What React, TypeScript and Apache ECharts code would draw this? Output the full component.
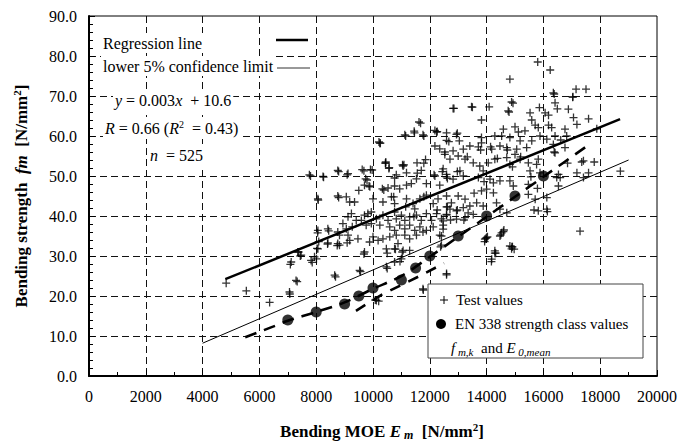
import React, { useEffect, useRef } from "react";
import * as echarts from "echarts";

// Test values: [bending MOE E_m (N/mm²), bending strength f_m (N/mm²)]
const testValues: [number, number][] = [
  [4830, 23.2], [5540, 21.3], [6360, 18.4], [7070, 20.5], [7060, 21.0], [7290, 23.9], [7330, 23.6], [7090, 27.9],
  [7120, 28.5], [7440, 30.0], [7380, 31.0], [7350, 31.0], [7470, 30.2], [7820, 28.9], [7860, 28.4], [7940, 29.8],
  [8010, 29.3], [8030, 31.9], [8060, 31.8], [8090, 33.6], [8050, 35.8], [8440, 36.3], [8400, 33.0], [8740, 32.6],
  [8680, 24.8], [8650, 25.2], [8410, 33.3], [8760, 33.1], [8820, 32.7], [8060, 36.4], [8410, 36.8], [8760, 36.0],
  [8820, 35.2], [8940, 38.1], [8060, 44.3], [8070, 44.0], [8760, 45.0], [8790, 44.6], [7800, 50.0], [7760, 50.3],
  [8240, 49.9], [8260, 49.7], [8790, 51.1], [8760, 51.4],
  [9060, 44.8], [9180, 43.5], [9350, 43.5], [9120, 50.6], [9090, 50.3], [9620, 51.6], [9680, 51.3], [9910, 51.6],
  [9970, 51.5], [9740, 49.3], [9790, 49.0], [9700, 47.7], [9860, 47.5], [9890, 47.3], [9500, 46.4], [10000, 44.3],
  [9240, 40.6], [9120, 39.8], [9410, 38.9], [9590, 38.9], [9700, 40.2], [9820, 40.6], [9940, 41.0], [9060, 36.8],
  [9270, 37.3], [9760, 37.7], [9940, 38.1], [9120, 35.2], [9180, 33.9], [9470, 34.3], [9880, 33.5], [10000, 34.8],
  [9700, 31.0], [9530, 26.4], [9560, 26.1], [9680, 30.5], [9090, 33.3], [10240, 58.2],
  [10210, 58.5], [10450, 53.5], [10440, 53.2], [10570, 52.1], [10560, 51.9], [11040, 52.8], [11060, 52.5], [11550, 53.3],
  [11850, 54.1], [11700, 51.4], [11180, 50.8], [10820, 50.3], [10760, 49.5], [10330, 46.8], [10530, 47.0], [10760, 47.5],
  [10940, 46.8], [11180, 47.7], [11350, 48.1], [11530, 49.3], [11880, 48.1], [12180, 50.0], [12350, 47.7], [12470, 51.8],
  [12590, 49.8], [10350, 43.5], [10650, 44.8], [10760, 43.1], [11180, 44.3], [11410, 43.1], [11470, 41.8], [11650, 44.3],
  [11880, 45.2], [12120, 43.1], [12290, 44.3], [12590, 42.3], [10120, 39.3], [10350, 40.2], [10530, 38.9], [10760, 41.0],
  [10820, 39.3], [11000, 40.2], [11120, 38.9], [11290, 39.8], [11530, 40.2], [11700, 38.9], [11880, 40.6], [12060, 38.9],
  [12240, 40.6], [12410, 39.3], [12590, 40.2], [10240, 37.7], [10590, 37.3], [10760, 36.4], [10940, 37.7], [11120, 36.8],
  [11290, 37.7], [11470, 36.4], [11650, 37.3], [11880, 36.4], [12120, 37.3], [12470, 37.7], [10180, 33.9], [10350, 34.3],
  [10590, 34.8], [10820, 35.2], [10880, 33.1], [11120, 35.2], [11290, 34.3], [11530, 35.2], [11760, 36.0], [12350, 35.2],
  [10470, 31.8], [10760, 31.8], [11060, 31.4], [11290, 31.4], [12410, 32.7], [10470, 27.3], [10760, 28.5], [11000, 29.3],
  [10500, 30.7], [10790, 31.7], [11030, 31.0], [10950, 28.6], [10500, 26.9], [11760, 21.8], [11770, 21.5], [10120, 18.9],
  [10200, 18.7], [10080, 19.0], [12590, 25.6], [12590, 25.3], [12380, 32.3],
  [11620, 63.5], [11675, 63.2], [11450, 61.2], [11460, 60.8], [11120, 60.3], [11150, 60.0], [11760, 60.3], [11790, 60.0],
  [12180, 61.4], [12240, 61.0], [12590, 58.9], [12670, 58.6], [12180, 57.5], [12350, 56.8], [12530, 56.0], [10260, 58.2],
  [15800, 78.5], [16240, 76.5], [14820, 74.2], [16350, 70.8], [17150, 71.7], [17500, 71.7], [17040, 69.8], [14880, 68.5],
  [16410, 68.3], [16490, 66.8], [12820, 66.9], [13470, 67.3], [14090, 67.3], [14760, 66.3], [13820, 64.0], [15530, 65.8],
  [15860, 67.1], [16060, 65.8], [16180, 65.2], [16880, 66.7], [17060, 64.6], [17180, 62.9], [17590, 64.3], [15590, 64.0],
  [15710, 62.7], [15820, 62.1], [16180, 62.7], [16290, 62.1], [16760, 61.7], [16820, 60.0], [17880, 61.8], [14590, 61.7],
  [15000, 62.3], [15120, 61.0], [15350, 61.3], [12590, 60.8], [12940, 60.4], [13040, 58.8], [13820, 59.6], [14290, 60.0],
  [14530, 60.0], [14820, 59.6], [15180, 58.8], [15590, 58.8], [15880, 60.0], [16120, 59.2], [16410, 60.0], [16350, 57.9],
  [16760, 57.1], [16410, 55.8], [15410, 57.1], [15060, 56.7], [15000, 55.4], [14710, 57.1], [14470, 57.5], [14180, 56.7],
  [13820, 58.3], [13710, 57.3], [13410, 57.5], [13180, 56.7], [12820, 56.3], [12530, 55.4], [12710, 54.2], [13000, 55.0],
  [13240, 54.2], [13530, 53.3], [13760, 52.5], [13880, 51.3], [14060, 53.3], [14290, 54.2], [14710, 54.6], [14820, 52.9],
  [15180, 54.2], [15470, 53.3], [15760, 52.9], [15820, 54.2], [15530, 51.3], [15880, 50.8], [16530, 50.4], [16590, 49.6],
  [17180, 50.8], [17410, 53.8], [17350, 53.5], [17790, 53.5], [17410, 49.6], [17590, 50.8], [18710, 51.2], [13060, 51.3],
  [13180, 50.0], [12590, 50.4], [12820, 49.2], [13710, 49.6], [14120, 49.2], [14240, 48.3], [14470, 48.8], [14820, 48.8],
  [14940, 47.5], [15470, 47.9], [15470, 45.4], [15710, 44.2], [16120, 44.6], [16530, 47.5], [16470, 49.6], [13820, 46.3],
  [14000, 46.7], [14240, 45.8], [12590, 45.0], [12760, 43.3], [13000, 45.0], [13240, 44.2], [13410, 42.5], [13650, 43.3],
  [12710, 41.7], [12940, 41.3], [13180, 42.1], [13350, 40.8], [13530, 40.4], [13240, 39.6], [12590, 40.4], [12940, 39.2],
  [13880, 42.5], [14470, 41.7], [14710, 40.8], [14350, 43.3], [15820, 41.3], [16120, 41.7], [12470, 38.8], [12470, 36.7],
  [12410, 35.0], [14530, 35.8], [14470, 35.0], [13940, 34.2], [14000, 34.6], [14290, 31.3], [14180, 29.2], [14820, 32.5],
  [14880, 31.8], [17290, 36.2], [13970, 34.4], [13930, 33.6], [14590, 36.1], [14500, 35.3], [14290, 30.7], [14170, 28.6],
  [14890, 32.3], [14970, 31.7],
  [14930, 68.2], [14790, 66.0], [12850, 66.9], [13500, 67.2], [12260, 61.1], [12970, 60.7], [16380, 70.5], [17030, 69.7],
  [10440, 53.2], [11090, 52.8], [11560, 50.7], [11790, 53.2], [12150, 50.3], [12440, 51.1], [12620, 49.4], [12970, 51.1],
  [13320, 54.8], [13790, 56.5], [14140, 57.3], [14380, 54.4], [14730, 56.5], [14910, 52.3], [15200, 54.8], [15560, 49.8],
  [15790, 46.9], [16380, 56.0], [16610, 59.0], [16850, 53.2], [10380, 46.5], [10730, 44.8], [11150, 42.3], [11440, 39.8],
  [11790, 44.8], [12260, 41.5], [12620, 42.3], [12970, 41.5], [13200, 39.0], [12730, 39.0], [13560, 45.7], [13910, 48.6],
  [14030, 34.8], [14610, 36.5], [14910, 32.3], [15670, 41.5], [16140, 41.1], [14320, 30.7],
];

// EN 338 strength classes: E_0,mean and f_m,k
const classE = [7000, 8000, 9000, 9500, 10000, 11000, 11500, 12000, 13000, 14000, 15000, 16000];
const classFm = [14, 16, 18, 20, 22, 24, 27, 30, 35, 40, 45, 50];

// Lines
const regressionLine: [number, number][] = [[4800, 24.2], [18700, 64.2]];
const lowerLimitLine: [number, number][] = [[4000, 8.2], [19000, 54.0]];
const classCurveUpper: [number, number][] = [
  [5500, 9.7], [6500, 12.4], [7000, 13.8], [8000, 16.0], [9000, 18.4], [10000, 21.8], [11000, 25.0],
  [12000, 29.8], [13000, 34.8], [14000, 39.8], [15000, 44.8], [16000, 49.8], [17600, 57.8],
];
const classCurveLower: [number, number][] = [[9400, 16.3], [10300, 20.3], [11700, 25.2], [12500, 28.2]];

const xTicks = { min: 0, max: 20000, interval: 2000 };
const yTicks = { min: 0, max: 90, interval: 10 };

const SERIF = "Liberation Serif";

export default function App() {
  const ref = useRef<HTMLDivElement>(null);
  useEffect(() => {
    if (!ref.current) return;
    const chart = echarts.init(ref.current, undefined, { renderer: "svg" });
    const axisCommon = {
      axisLine: { show: true, onZero: false, lineStyle: { color: "#000", width: 2 } },
      axisTick: { show: true, inside: true, length: 6, lineStyle: { color: "#000", width: 1 } },
      splitLine: {
        show: true,
        showMinLine: false,
        showMaxLine: false,
        lineStyle: { color: "#111", width: 1, type: [7, 4] },
      },
    };
    const classPoints = classE.map((e, i) => [e, classFm[i]]);
    const txt = { fontFamily: SERIF, fontSize: 16, fill: "#000" };
    const richEq = {
      i: { fontFamily: SERIF, fontSize: 16, fontStyle: "italic", lineHeight: 18 },
      n: { fontFamily: SERIF, fontSize: 16, lineHeight: 18 },
      sup: { fontFamily: SERIF, fontSize: 10, verticalAlign: "top", lineHeight: 10 },
    };
    const option: any = {
      animation: false,
      textStyle: { fontFamily: SERIF },
      grid: { left: 89, right: 23, top: 16, bottom: 66, show: true, borderColor: "#000", borderWidth: 1 },
      xAxis: {
        type: "value",
        ...xTicks,
        ...axisCommon,
        minorTick: { show: true, splitNumber: 2, length: 4, lineStyle: { color: "#000" } },
        axisLabel: {
          color: "#000",
          fontFamily: SERIF,
          fontSize: 16,
          margin: 12,
          formatter: (v: number) => String(v),
        },
      },
      yAxis: {
        type: "value",
        ...yTicks,
        ...axisCommon,
        minorTick: { show: true, splitNumber: 5, length: 4, lineStyle: { color: "#000" } },
        axisLabel: {
          color: "#000",
          fontFamily: SERIF,
          fontSize: 16,
          margin: 12,
          formatter: (v: number) => v.toFixed(1),
        },
      },
      series: [
        {
          type: "scatter",
          name: "Test values",
          data: testValues,
          symbol: "path://M0 5H10M5 0V10",
          symbolSize: 8,
          itemStyle: { color: "rgba(0,0,0,0)", borderColor: "#000", borderWidth: 1.3 },
          z: 3,
        },
        {
          type: "line",
          data: regressionLine,
          symbol: "none",
          lineStyle: { color: "#000", width: 2.5 },
          z: 4,
        },
        {
          type: "line",
          data: lowerLimitLine,
          symbol: "none",
          lineStyle: { color: "#000", width: 1 },
          z: 4,
        },
        {
          type: "line",
          data: classCurveUpper,
          symbol: "none",
          smooth: 0.3,
          lineStyle: { color: "#000", width: 2.6, type: [12, 8] },
          z: 4,
        },
        {
          type: "line",
          data: classCurveLower,
          symbol: "none",
          lineStyle: { color: "#000", width: 2.6, type: [11, 9] },
          z: 4,
        },
        {
          type: "scatter",
          name: "EN 338 strength class values",
          data: classPoints,
          symbol: "circle",
          symbolSize: 11,
          itemStyle: { color: "#000" },
          z: 6,
        },
      ],
      graphic: [
        // top-left legend
        {
          type: "text", x: 101, y: 43, z: 100,
          style: { ...txt, text: "Regression line", verticalAlign: "middle", backgroundColor: "#fff", padding: [2, 2] },
        },
        { type: "line", z: 100, shape: { x1: 276, y1: 40, x2: 308, y2: 40 }, style: { stroke: "#000", lineWidth: 2.5 } },
        {
          type: "text", x: 101, y: 66, z: 100,
          style: { ...txt, text: "lower 5% confidence limit", verticalAlign: "middle", backgroundColor: "#fff", padding: [2, 2] },
        },
        { type: "line", z: 100, shape: { x1: 277, y1: 68, x2: 310, y2: 68 }, style: { stroke: "#333", lineWidth: 1 } },
        // regression equation
        {
          type: "text", x: 113, y: 100, z: 100,
          style: {
            text: "{i|y}{n| = 0.003}{i|x}{n|  + 10.6}",
            rich: richEq, verticalAlign: "middle", backgroundColor: "#fff", padding: [2, 2],
          },
        },
        {
          type: "text", x: 103, y: 128, z: 100,
          style: {
            text: "{i|R}{n| = 0.66 (}{i|R}{sup|2}{n|  = 0.43)}",
            rich: richEq, verticalAlign: "middle", backgroundColor: "#fff", padding: [2, 2],
          },
        },
        {
          type: "text", x: 148, y: 155, z: 100,
          style: {
            text: "{i|n}{n|  = 525}",
            rich: richEq, verticalAlign: "middle", backgroundColor: "#fff", padding: [2, 2],
          },
        },
        // bottom-right legend
        {
          type: "rect", z: 100,
          shape: { x: 428, y: 284, width: 215, height: 74 },
          style: { fill: "#fff", stroke: "#444", lineWidth: 1 },
        },
        { type: "line", z: 101, shape: { x1: 440, y1: 300, x2: 448, y2: 300 }, style: { stroke: "#000", lineWidth: 1 } },
        { type: "line", z: 101, shape: { x1: 444, y1: 296, x2: 444, y2: 304 }, style: { stroke: "#000", lineWidth: 1 } },
        {
          type: "text", x: 456, y: 300, z: 101,
          style: { fontFamily: SERIF, fontSize: 15, fill: "#000", text: "Test values", verticalAlign: "middle" },
        },
        { type: "circle", z: 101, shape: { cx: 441, cy: 324, r: 5 }, style: { fill: "#000" } },
        {
          type: "text", x: 455, y: 324, z: 101,
          style: { fontFamily: SERIF, fontSize: 15, fill: "#000", text: "EN 338 strength class values", verticalAlign: "middle" },
        },
        {
          type: "text", x: 451, y: 348, z: 101,
          style: {
            text: "{i|f}{sub| m,k}{n|  and }{i|E}{sub| 0,mean}",
            verticalAlign: "middle",
            rich: {
              i: { fontFamily: SERIF, fontSize: 15, fontStyle: "italic", lineHeight: 18 },
              n: { fontFamily: SERIF, fontSize: 15, lineHeight: 18 },
              sub: { fontFamily: SERIF, fontSize: 11, fontStyle: "italic", verticalAlign: "bottom", lineHeight: 12 },
            },
          },
        },
        // axis titles
        {
          type: "text", x: 382, y: 431, z: 100,
          style: {
            text: "{b|Bending MOE }{bi|E}{bsub| m}{b|  [N/mm}{bsup|2}{b|]}",
            align: "center",
            verticalAlign: "middle",
            rich: {
              b: { fontFamily: SERIF, fontSize: 17, fontWeight: "bold", lineHeight: 20 },
              bi: { fontFamily: SERIF, fontSize: 17, fontWeight: "bold", fontStyle: "italic", lineHeight: 20 },
              bsub: { fontFamily: SERIF, fontSize: 12, fontWeight: "bold", fontStyle: "italic", verticalAlign: "bottom", lineHeight: 13 },
              bsup: { fontFamily: SERIF, fontSize: 11, fontWeight: "bold", verticalAlign: "top", lineHeight: 11 },
            },
          },
        },
        {
          type: "text", x: 21, y: 196, z: 100, rotation: Math.PI / 2,
          style: {
            text: "{b|Bending strength  }{bi|fm}{b|  [N/mm}{bsup|2}{b|]}",
            align: "center",
            verticalAlign: "middle",
            rich: {
              b: { fontFamily: SERIF, fontSize: 17, fontWeight: "bold", lineHeight: 20 },
              bi: { fontFamily: SERIF, fontSize: 17, fontWeight: "bold", fontStyle: "italic", lineHeight: 20 },
              bsup: { fontFamily: SERIF, fontSize: 11, fontWeight: "bold", verticalAlign: "top", lineHeight: 11 },
            },
          },
        },
      ],
    };
    chart.setOption(option);
    return () => chart.dispose();
  }, []);
  return <div ref={ref} style={{ width: 680, height: 442, position: "absolute", left: 0, top: 0 }} />;
}
